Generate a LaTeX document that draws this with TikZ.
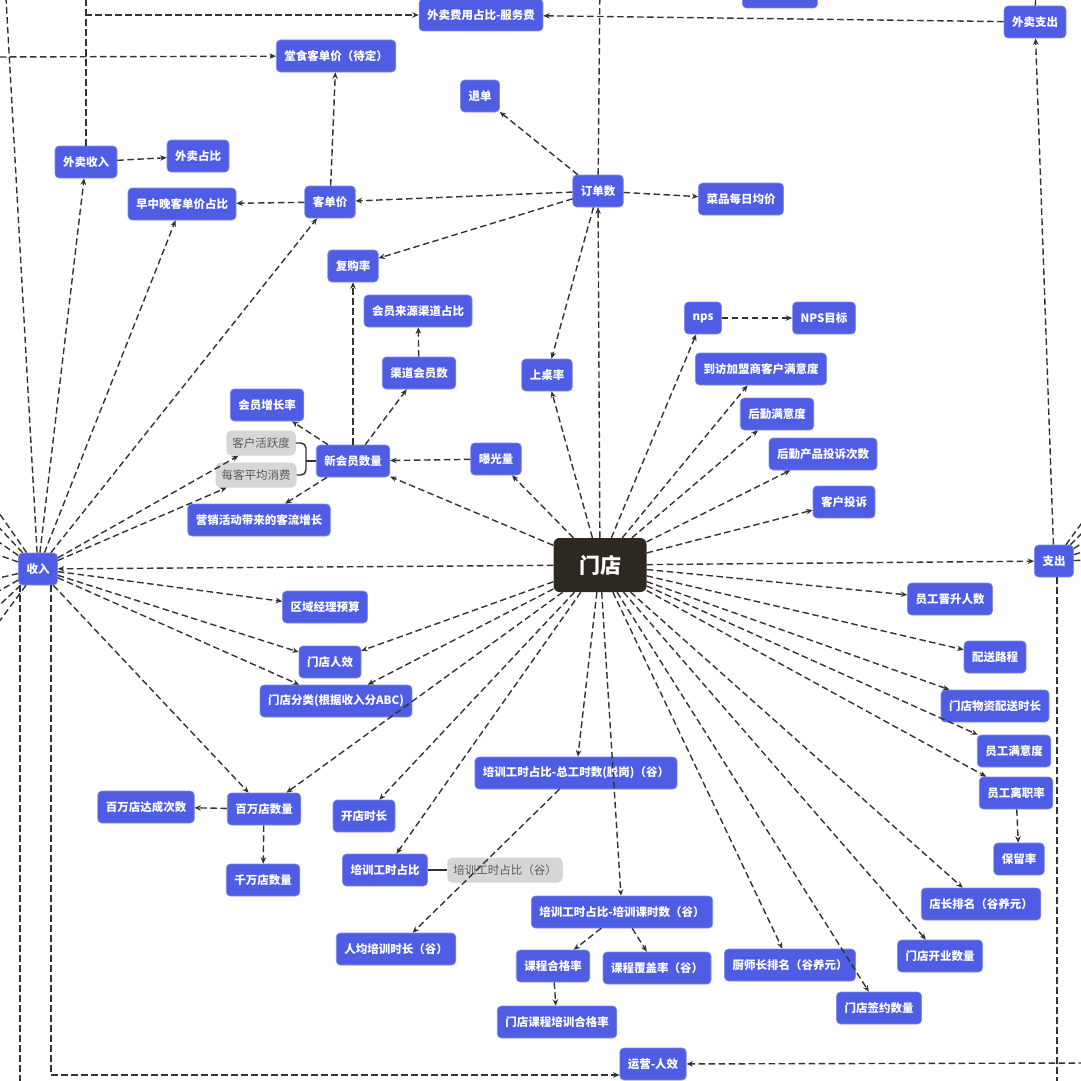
\documentclass[tikz,border=0pt]{standalone}
\usepackage{fontspec}
\setmainfont{Noto Sans CJK SC}
\usetikzlibrary{arrows.meta,positioning}
\definecolor{KPIc}{RGB}{79,92,228}
\definecolor{HubC}{RGB}{46,40,34}
\definecolor{NoteC}{RGB}{214,214,214}
\definecolor{LinkC}{RGB}{50,50,50}
\tikzset{
  kpi/.style={rectangle,rounded corners=4pt,fill=KPIc,draw=KPIc!70!white,line width=0.6pt,
              text=white,minimum height=32pt,inner xsep=8pt,inner ysep=2pt,
              font=\fontsize{11.5}{13}\selectfont\bfseries},
  hub/.style={rectangle,rounded corners=6pt,fill=HubC,text=white,
              minimum width=93pt,minimum height=54pt,
              font=\fontsize{21}{24}\selectfont\bfseries},
  note/.style={rectangle,rounded corners=5pt,fill=NoteC,text=black!65,
               minimum height=25pt,inner xsep=6pt,inner ysep=2pt,
               font=\fontsize{11.5}{13}\selectfont},
  lnk/.style={-{Stealth[length=6.5pt,width=5.5pt]},dash pattern=on 6.5pt off 3.5pt,
              line width=1.4pt,LinkC},
  plain/.style={dash pattern=on 6.5pt off 3.5pt,line width=1.4pt,LinkC},
  brace/.style={line width=1.4pt,LinkC,rounded corners=5pt},
}
\begin{document}
\begin{tikzpicture}[x=1pt,y=-1pt]
\useasboundingbox (0,0) rectangle (1080,1081);

% centre
\node[hub] (md) at (600,565) {门店};

% top row
\node[kpi,minimum width=75pt] (topcut) at (780,-8) {};
\node[kpi] (fwf) at (481,15) {外卖费用占比-服务费};
\node[kpi] (wmzc) at (1035,22) {外卖支出};
\node[kpi] (tskdj) at (336,56) {堂食客单价（待定）};
\node[kpi] (td) at (480,96) {退单};
\node[kpi] (wmsr) at (86,162) {外卖收入};
\node[kpi] (wmzb) at (198,156) {外卖占比};
\node[kpi] (zzw) at (182,204) {早中晚客单价占比};
\node[kpi] (kdj) at (330,202) {客单价};
\node[kpi] (dds) at (598,191) {订单数};
\node[kpi] (cpjj) at (741,199) {菜品每日均价};

% members
\node[kpi] (fgl) at (353,266) {复购率};
\node[kpi] (hyly) at (418,311) {会员来源渠道占比};
\node[kpi] (qdhy) at (419,373) {渠道会员数};
\node[kpi] (hyzz) at (267,405) {会员增长率};
\node[note] (khhy) at (261,443) {客户活跃度};
\node[note] (mkxf) at (256,475) {每客平均消费};
\node[kpi] (xhy) at (353,461) {新会员数量};
\node[kpi] (bgl) at (496,459) {曝光量};
\node[kpi] (yxkl) at (259,520) {营销活动带来的客流增长};
\node[kpi] (szl) at (547,375) {上桌率};

% satisfaction
\node[kpi] (nps) at (703,318) {nps};
\node[kpi] (npsmb) at (824,318) {NPS目标};
\node[kpi] (dfmy) at (761,369) {到访加盟商客户满意度};
\node[kpi] (hqmy) at (777,414) {后勤满意度};
\node[kpi] (hqts) at (823,454) {后勤产品投诉次数};
\node[kpi] (khts) at (844,502) {客户投诉};

% income / expense
\node[kpi] (sr) at (38,569) {收入};
\node[kpi] (zc) at (1054,561) {支出};

% lower left
\node[kpi] (qyys) at (325,607) {区域经理预算};
\node[kpi] (mdrx) at (330,662) {门店人效};
\node[kpi] (mdfl) at (336,701) {门店分类(根据收入分ABC)};
\node[kpi] (bwdc) at (146,807) {百万店达成次数};
\node[kpi] (bwd) at (264,809) {百万店数量};
\node[kpi] (qwd) at (263,880) {千万店数量};
\node[kpi] (kdsc) at (364,816) {开店时长};

% training
\node[kpi] (pxzgs) at (576,773) {培训工时占比-总工时数(脱岗)（谷）};
\node[kpi] (pxzb) at (385,870) {培训工时占比};
\node[note] (pxgu) at (505,870) {培训工时占比（谷）};
\node[kpi] (pxks) at (622,912) {培训工时占比-培训课时数（谷）};
\node[kpi] (rjpx) at (396,949) {人均培训时长（谷）};
\node[kpi] (kchg) at (553,966) {课程合格率};
\node[kpi] (kcfg) at (657,968) {课程覆盖率（谷）};
\node[kpi] (kcpx) at (557,1022) {门店课程培训合格率};
\node[kpi] (yyrx) at (653,1064) {运营-人效};

% staff
\node[kpi] (ygjs) at (950,599) {员工晋升人数};
\node[kpi] (pslc) at (995,657) {配送路程};
\node[kpi] (wzps) at (995,706) {门店物资配送时长};
\node[kpi] (ygmy) at (1014,751) {员工满意度};
\node[kpi] (yglz) at (1016,793) {员工离职率};
\node[kpi] (blv) at (1019,859) {保留率};
\node[kpi] (dzpm) at (981,904) {店长排名（谷养元）};
\node[kpi] (kyks) at (940,956) {门店开业数量};
\node[kpi] (csz) at (790,965) {厨师长排名（谷养元）};
\node[kpi] (qyue) at (879,1008) {门店签约数量};

% free ends
\coordinate (ddtop) at (600,-20);
\coordinate (wmtop) at (86,-20);
\coordinate (zctop) at (1036,-20);
\coordinate (srtop) at (5,-20);
\coordinate (tsin) at (-10,57);
\coordinate (srbot) at (20,1095);
\coordinate (zcbot) at (1057,1095);
\coordinate (yyin) at (1095,1063);

% hub links
\foreach \t in {dds,szl,xhy,bgl,nps,dfmy,hqmy,hqts,khts,zc,sr,
                ygjs,pslc,wzps,ygmy,yglz,dzpm,kyks,qyue,csz,
                pxks,pxzgs,pxzb,kdsc,bwd,mdfl,mdrx}
  \draw[lnk] (md) -- (\t);

% orders
\draw[lnk] (dds) -- (td);
\draw[lnk] (dds) -- (kdj);
\draw[lnk] (dds) -- (fgl);
\draw[lnk] (dds) -- (cpjj);
\draw[lnk] (dds) -- (szl);
\draw[plain] (dds) -- (ddtop);
\draw[lnk] (kdj) -- (tskdj);
\draw[lnk] (kdj) -- (zzw);

% income
\foreach \t in {kdj,zzw,wmsr,khhy,mkxf,qyys,mdrx,mdfl,bwd}
  \draw[lnk] (sr) -- (\t);
\draw[lnk] (wmsr) -- (wmzb);
\draw[plain] (wmsr.north) -- (wmtop);
\draw[lnk] (wmsr.north) |- (fwf.west);
\draw[plain] (sr) -- (srtop);
\draw[lnk] (tsin) -- (tskdj);
\draw[plain] ([xshift=-18pt]sr.south) -- (srbot);
\draw[lnk] ([xshift=13pt]sr.south) |- ([yshift=-11pt]yyrx.west);
\foreach \yy [count=\i] in {500,518,536,552,580,596,614,634}{
  \coordinate (lf\i) at (-10,\yy);
  \draw[plain] (sr) -- (lf\i);
}

% expense
\draw[lnk] (zc) -- (wmzc);
\draw[lnk] (wmzc) -- (fwf);
\draw[plain] (wmzc) -- (zctop);
\draw[plain] ([xshift=3pt]zc.south) -- (zcbot);
\draw[lnk] (yyin) -- (yyrx);
\foreach \yy [count=\i] in {505,520,535,548,560}{
  \coordinate (rt\i) at (1095,\yy);
  \draw[plain] (zc) -- (rt\i);
}

% members
\draw[lnk] (bgl) -- (xhy);
\draw[lnk] (xhy) -- (fgl);
\draw[lnk] (xhy) -- (qdhy);
\draw[lnk] (qdhy) -- (hyly);
\draw[lnk] (xhy) -- (hyzz);
\draw[lnk] (xhy) -- (yxkl);
\draw[brace] (khhy.east) -| ([xshift=-10pt]xhy.west) |- (mkxf.east);
\draw[brace] ([xshift=-10pt]xhy.west) -- (xhy.west);
\draw[lnk] (nps) -- (npsmb);

% stores / training
\draw[lnk] (bwd) -- (bwdc);
\draw[lnk] (bwd) -- (qwd);
\draw[lnk] (pxzgs) -- (rjpx);
\draw[lnk] (pxks) -- (kchg);
\draw[lnk] (pxks) -- (kcfg);
\draw[lnk] (kchg) -- (kcpx);
\draw[brace] (pxzb) -- (pxgu);
\draw[lnk] (yglz) -- (blv);
\end{tikzpicture}
\end{document}
